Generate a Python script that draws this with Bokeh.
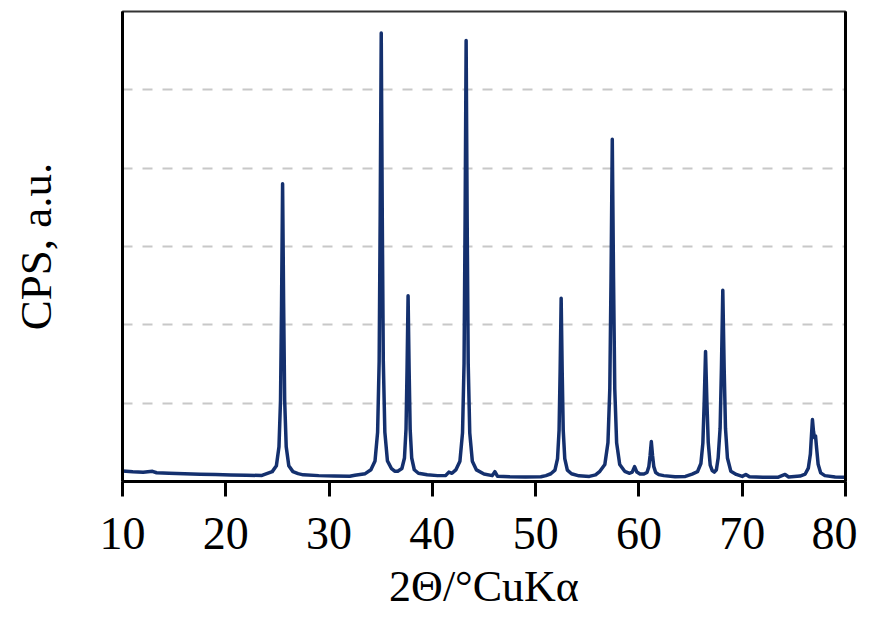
from bokeh.plotting import figure
from bokeh.models import FixedTicker, LinearAxis, Range1d
from bokeh.embed import file_html
from bokeh.resources import INLINE

# 2-theta (deg) and intensity (CPS)
two_theta = [
    10.0, 11.0, 12.0, 12.9, 13.3, 14.5, 16.0, 17.5, 19.0, 20.5, 22.0, 23.5,
    24.5, 24.9, 25.15, 25.3, 25.4, 25.5, 25.6, 25.7, 25.85, 26.1, 26.5,
    27.0, 27.5, 29.0, 30.5, 32.0, 32.5, 33.5,
    34.05, 34.45, 34.7, 34.85, 34.95, 35.05, 35.15, 35.25, 35.4, 35.65, 36.05,
    36.35, 36.65, 37.05, 37.3, 37.45, 37.55, 37.65, 37.75, 37.85, 38.0, 38.25, 38.65,
    39.5, 40.5, 41.3, 41.6, 41.9,
    42.27, 42.67, 42.92, 43.07, 43.17, 43.27, 43.37, 43.47, 43.62, 43.87, 44.27,
    45.0, 45.8, 46.05, 46.3, 47.5, 49.0, 50.5, 51.0,
    51.47, 51.87, 52.12, 52.27, 52.37, 52.47, 52.57, 52.67, 52.82, 53.07, 53.47,
    54.2, 55.2, 55.8,
    56.22, 56.7, 57.0, 57.18, 57.3, 57.42, 57.54, 57.66, 57.84, 58.14, 58.62,
    59.1, 59.35, 59.58, 59.8, 60.1,
    60.48, 60.78, 60.96, 61.08, 61.2, 61.32, 61.44, 61.62, 61.92, 62.4,
    63.5, 64.5,
    65.15, 65.67, 66.0, 66.19, 66.32, 66.45, 66.58, 66.71, 66.9, 67.1, 67.3, 67.5,
    67.67, 67.86, 67.99, 68.12, 68.25, 68.38, 68.57, 68.9, 69.42,
    70.0, 70.35, 70.7, 72.0, 73.5, 74.15, 74.5, 75.6,
    76.1, 76.4, 76.6, 76.7, 76.8, 76.9, 77.0, 77.1, 77.2, 77.35, 77.6, 78.0, 79.0, 80.0,
]
cps = [
    135, 125, 118, 130, 112, 105, 98, 92, 88, 84, 80, 77,
    126, 201, 443, 1040, 2270, 3800, 2270, 1040, 443, 201, 126,
    100, 85, 75, 70, 68, 80, 100,
    150, 263, 631, 1537, 3404, 5725, 3404, 1537, 631, 263, 163,
    132, 132, 166, 300, 670, 1430, 2370, 1430, 670, 300, 150, 105,
    85, 75, 78, 120, 105,
    148, 260, 621, 1512, 3348, 5630, 3348, 1512, 621, 260, 148,
    95, 75, 125, 68, 60, 57, 60, 75,
    99, 145, 293, 657, 1407, 2340, 1407, 657, 293, 145, 99,
    72, 65, 85,
    130, 216, 495, 1184, 2605, 4370, 2605, 1184, 495, 216, 130,
    105, 120, 190, 120, 95,
    95, 115, 190, 330, 510, 330, 190, 115, 88, 75,
    62, 65,
    95, 125, 230, 490, 1015, 1660, 1020, 500, 210, 140, 120, 150,
    300, 680, 1460, 2440, 1460, 680, 300, 130, 90,
    65, 90, 60, 55, 55, 90, 58, 70,
    95, 170, 350, 580, 790, 640, 560, 580, 430, 220, 110, 75, 58, 55,
]
x_ticks = [10, 20, 30, 40, 50, 60, 70, 80]
grid_levels = [1000, 2000, 3000, 4000, 5000]
x_title = "2Θ/°CuKα"
y_title = "CPS, a.u."

FONT = "Liberation Serif"

p = figure(width=857, height=615, output_backend="svg", toolbar_location=None,
           x_range=Range1d(10, 80), y_range=Range1d(0, 6000),
           min_border_left=122, min_border_top=11, min_border_right=12,
           min_border_bottom=134)
p.background_fill_color = "white"
p.border_fill_color = "white"
p.outline_line_color = "#333333"
p.outline_line_width = 2

p.line(two_theta, cps, line_width=3.5, line_color="#14306e", line_join="round")

# x axis
xa = p.xaxis[0]
xa.ticker = FixedTicker(ticks=x_ticks)
xa.axis_line_color = "black"
xa.axis_line_width = 3
xa.major_tick_line_color = "black"
xa.major_tick_line_width = 3
xa.major_tick_out = 15
xa.major_tick_in = 0
xa.minor_tick_line_color = None
xa.major_label_text_font = FONT
xa.major_label_text_font_size = "46px"
xa.major_label_text_color = "black"
xa.major_label_standoff = 21
xa.axis_label = x_title
xa.axis_label_text_font = FONT
xa.axis_label_text_font_size = "44px"
xa.axis_label_text_font_style = "normal"
xa.axis_label_text_color = "black"
xa.axis_label_standoff = 10

# y axis
ya = p.yaxis[0]
ya.ticker = FixedTicker(ticks=[])
ya.axis_line_color = "black"
ya.axis_line_width = 3
ya.major_tick_line_color = None
ya.minor_tick_line_color = None
ya.major_tick_out = 0
ya.major_tick_in = 0
ya.major_label_standoff = 0
ya.axis_label = y_title
ya.axis_label_text_font = FONT
ya.axis_label_text_font_size = "45px"
ya.axis_label_text_font_style = "normal"
ya.axis_label_text_color = "black"
ya.axis_label_standoff = 62

# right border axis
ra = LinearAxis(ticker=FixedTicker(ticks=[]), axis_line_color="black",
                axis_line_width=3, major_tick_line_color=None,
                minor_tick_line_color=None, major_tick_out=0,
                major_label_standoff=0)
p.add_layout(ra, "right")

p.xgrid.visible = False
p.ygrid.ticker = FixedTicker(ticks=grid_levels)
p.ygrid.grid_line_color = "#c8c8c8"
p.ygrid.grid_line_width = 2
p.ygrid.grid_line_dash = "10 10"

open("out.html", "w").write(file_html(p, INLINE))
